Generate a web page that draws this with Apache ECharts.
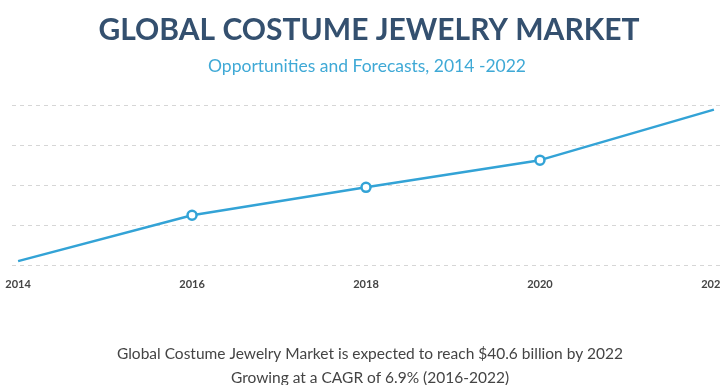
<!DOCTYPE html>
<html>
<head>
<meta charset="utf-8">
<script src="https://cdn.jsdelivr.net/npm/echarts@6/dist/echarts.min.js"></script>
<style>
  html, body { margin: 0; padding: 0; background: #fff; }
  #chart { width: 720px; height: 385px; }
</style>
</head>
<body>
<div id="chart"></div>
<script>
// Market size, USD billion
const years = [2014, 2016, 2018, 2020, 2022];
const marketSize = [21.1, 27.0, 30.6, 34.1, 40.6];
const yearLabels = [2014, 2016, 2018, 2020, 2022];
// points drawn with a hollow marker
const markedYears = [2016, 2018, 2020];

const chartTitle = 'GLOBAL COSTUME JEWELRY MARKET';
const chartSubtitle = 'Opportunities and Forecasts, 2014 -2022';
const noteLines = [
  'Global Costume Jewelry Market is expected to reach $40.6 billion by 2022',
  'Growing at a CAGR of 6.9% (2016-2022)'
];

const chart = echarts.init(document.getElementById('chart'), null, { renderer: 'canvas' });

const lineData = years.map((y, i) => ({
  value: [y, marketSize[i]],
  symbol: markedYears.includes(y) ? 'circle' : 'none'
}));

chart.setOption({
  animation: false,
  backgroundColor: '#ffffff',
  title: [
    {
      text: chartTitle,
      left: 364, top: 10, textAlign: 'center',
      textStyle: { fontFamily: 'Lato', fontWeight: 'bold', fontSize: 30, color: '#34506f' }
    },
    {
      text: chartSubtitle,
      left: 362, top: 52, textAlign: 'center',
      textStyle: { fontFamily: 'Lato', fontWeight: 'normal', fontSize: 17.5, color: '#3fa9d6' }
    },
    {
      text: noteLines.join('\n'),
      left: 365, top: 337, textAlign: 'center',
      textStyle: { fontFamily: 'Lato', fontWeight: 'normal', fontSize: 15.5, lineHeight: 24, color: '#444444' }
    }
  ],
  grid: { left: 12, right: 0, top: 105, bottom: 120, outerBoundsMode: 'none' },
  xAxis: {
    type: 'value',
    min: 2013.93,
    max: 2022.07,
    axisLine: { show: false },
    axisTick: { show: false },
    splitLine: { show: false },
    axisLabel: {
      customValues: yearLabels,
      margin: 14,
      fontFamily: 'Lato',
      fontWeight: 'bold',
      fontSize: 11,
      color: '#444444',
      formatter: v => String(v)
    }
  },
  yAxis: {
    type: 'value',
    min: 20.6,
    max: 41.2,
    interval: 5.15,
    axisLine: { show: false },
    axisTick: { show: false },
    axisLabel: { show: false },
    splitLine: { show: true, lineStyle: { color: '#d6d6d6', width: 1, type: [4, 4] } }
  },
  series: [{
    type: 'line',
    data: lineData,
    symbolSize: 9,
    lineStyle: { color: '#33a3d6', width: 2.5 },
    itemStyle: { color: '#ffffff', borderColor: '#33a3d6', borderWidth: 2.5 },
    clip: false
  }]
});
</script>
</body>
</html>
